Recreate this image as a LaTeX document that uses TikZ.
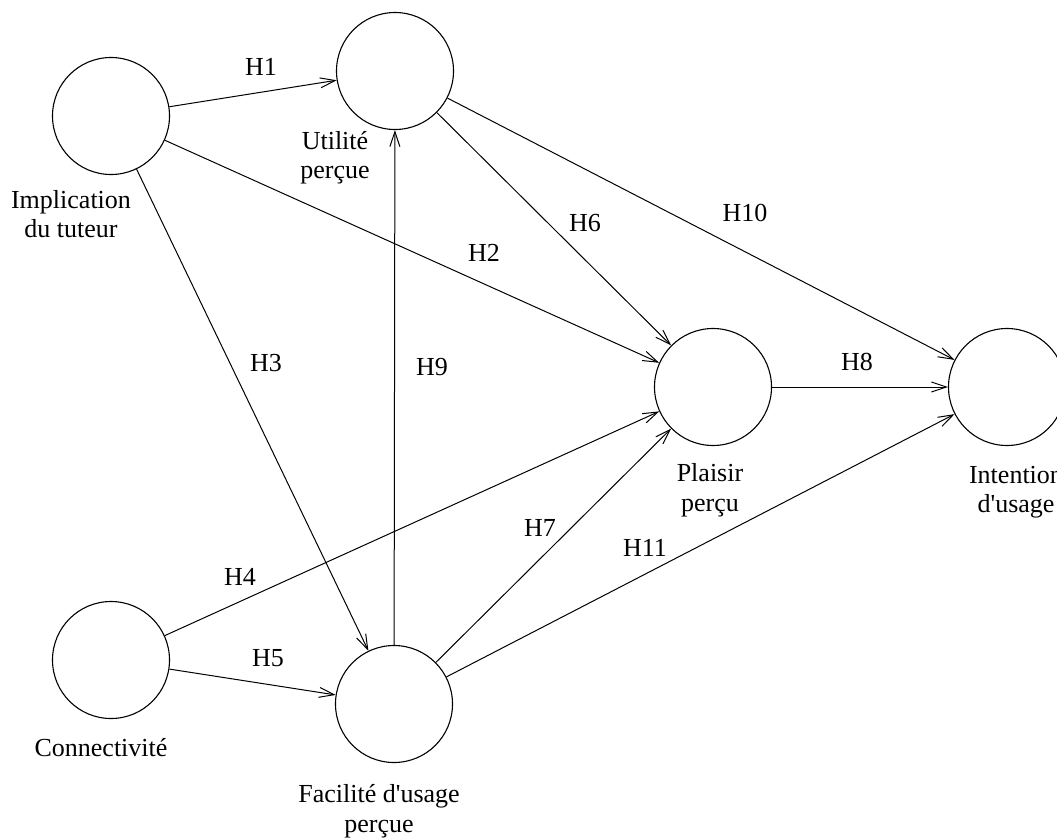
\documentclass[tikz,border=0pt]{standalone}
\usepackage{fontspec}
\setmainfont{Liberation Serif}[Ligatures=TeXOff]
\usetikzlibrary{arrows.meta}
\begin{document}
\begin{tikzpicture}[x=1pt,y=-1pt,
  construct/.style={circle,draw,line width=1.1pt,minimum size=117pt,inner sep=0pt},
  lbl/.style={align=center,inner sep=0pt,font=\fontsize{26}{29.5}\selectfont},
  hyp/.style={inner sep=0pt,font=\fontsize{26}{29}\selectfont},
  link/.style={line width=1.0pt,-{Straight Barb[length=15pt,width=10pt,line width=1.0pt]}}]
\useasboundingbox (0,0) rectangle (1057,838);
\fill[white] (0,0) rectangle (1057,838);
\node[construct] (I) at (111,116) {};
\node[construct] (U) at (395,71) {};
\node[construct] (P) at (713,387) {};
\node[construct] (N) at (1007,387) {};
\node[construct] (C) at (111,660) {};
\node[construct] (F) at (394,704) {};

\node[lbl] (Il) at (71,214) {Implication\\du tuteur};
\node[lbl] (Ul) at (335,157.5) {Utilité\\perçue};
\node[lbl] (Pl) at (710,490) {Plaisir\\perçu};
\node[lbl] (Nl) at (1016,492) {Intention\\d'usage};
\node[lbl] (Cl) at (101,748) {Connectivité};
\node[lbl] (Fl) at (379,811) {Facilité d'usage\\perçue};

\draw[link] (I) -- (U);
\draw[link] (I) -- (P);
\draw[link] (I) -- (F);
\draw[link] (C) -- (P);
\draw[link] (C) -- (F);
\draw[link] (U) -- (P);
\draw[link] (F) -- (P);
\draw[link] (P) -- (N);
\draw[link] (F) -- (U);
\draw[link] (U) -- (N);
\draw[link] (F) -- (N);

\node[hyp] (h1) at (261,67) {H1};
\node[hyp] (h2) at (484,253) {H2};
\node[hyp] (h3) at (266,363) {H3};
\node[hyp] (h4) at (240,577) {H4};
\node[hyp] (h5) at (268,658) {H5};
\node[hyp] (h6) at (585,223) {H6};
\node[hyp] (h7) at (540,528) {H7};
\node[hyp] (h8) at (857,362) {H8};
\node[hyp] (h9) at (432,367) {H9};
\node[hyp] (h10) at (745,213) {H10};
\node[hyp] (h11) at (645,548) {H11};
\end{tikzpicture}
\end{document}
